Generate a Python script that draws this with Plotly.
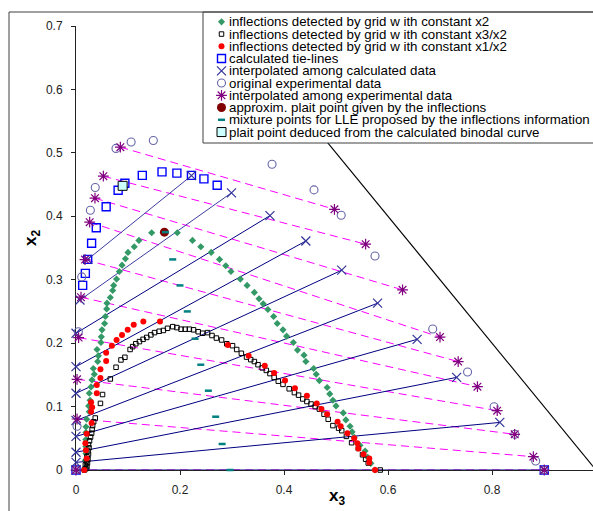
import plotly.graph_objects as go

# ---------------- data ----------------
# inflections detected by grid with constant x2 (green diamonds)
green_x3 = [0.018, 0.018, 0.019, 0.019, 0.019, 0.019, 0.0192, 0.0205, 0.0256, 0.0244, 0.027, 0.0256,
            0.0288, 0.0308, 0.0352, 0.0333, 0.0417, 0.043, 0.0404, 0.048, 0.0487, 0.050, 0.055, 0.0564,
            0.059, 0.0596, 0.066, 0.0705, 0.0724, 0.078, 0.0833, 0.0885, 0.095, 0.100, 0.112, 0.121, 0.1455,
            0.1948, 0.224, 0.240, 0.260, 0.276, 0.288, 0.298, 0.316, 0.329, 0.343, 0.352, 0.360, 0.369,
            0.380, 0.387, 0.398, 0.405, 0.418, 0.426, 0.4385, 0.442, 0.457, 0.462, 0.468, 0.483, 0.488,
            0.494, 0.500, 0.514, 0.519, 0.527, 0.531, 0.535, 0.546, 0.556, 0.561, 0.567, 0.575]
green_x2 = [0.004, 0.015, 0.026, 0.037, 0.048, 0.059, 0.068, 0.080, 0.092, 0.101, 0.110, 0.121,
            0.131, 0.142, 0.151, 0.160, 0.171, 0.180, 0.190, 0.201, 0.210, 0.221, 0.231, 0.242,
            0.254, 0.263, 0.272, 0.283, 0.291, 0.301, 0.313, 0.323, 0.333, 0.343, 0.352, 0.362, 0.374,
            0.374, 0.362, 0.352, 0.343, 0.332, 0.322, 0.313, 0.301, 0.291, 0.280, 0.270, 0.262, 0.253,
            0.242, 0.231, 0.221, 0.211, 0.201, 0.189, 0.181, 0.171, 0.160, 0.151, 0.141, 0.130, 0.120,
            0.110, 0.101, 0.090, 0.079, 0.069, 0.060, 0.0515, 0.039, 0.030, 0.020, 0.0105, 0.000]

# inflections detected by grid with constant x3/x2 (small black open squares)
black_x3 = [0.016, 0.019, 0.021, 0.018, 0.022, 0.020, 0.023, 0.021, 0.024, 0.023, 0.025, 0.024,
            0.026, 0.028, 0.030, 0.031, 0.032, 0.034, 0.037, 0.047, 0.051, 0.066, 0.077, 0.0865,
            0.094, 0.104, 0.109, 0.115, 0.122, 0.129, 0.136, 0.144, 0.151, 0.160, 0.168, 0.176,
            0.186, 0.194, 0.202, 0.210, 0.218, 0.226, 0.235, 0.2436, 0.253, 0.2615, 0.270, 0.280,
            0.290, 0.301, 0.309, 0.318, 0.328, 0.336, 0.343, 0.350, 0.358, 0.366, 0.373, 0.381,
            0.389, 0.398, 0.410, 0.420, 0.428, 0.436, 0.444, 0.452, 0.460, 0.468, 0.477, 0.485,
            0.494, 0.505, 0.511, 0.520, 0.530, 0.543, 0.551, 0.557, 0.562, 0.585]
black_x2 = [0.000, 0.002, 0.005, 0.008, 0.011, 0.014, 0.017, 0.021, 0.025, 0.030, 0.035, 0.040,
            0.046, 0.052, 0.058, 0.064, 0.070, 0.076, 0.082, 0.105, 0.119, 0.1435, 0.162, 0.1735,
            0.1777, 0.190, 0.1945, 0.199, 0.2024, 0.206, 0.209, 0.213, 0.2166, 0.2187, 0.220, 0.2234,
            0.226, 0.2245, 0.222, 0.222, 0.222, 0.221, 0.218, 0.2156, 0.2166, 0.212, 0.208, 0.205,
            0.199, 0.196, 0.190, 0.184, 0.178, 0.174, 0.171, 0.166, 0.161, 0.157, 0.152, 0.146,
            0.140, 0.135, 0.128, 0.122, 0.118, 0.112, 0.108, 0.104, 0.100, 0.096, 0.088, 0.080,
            0.070, 0.066, 0.062, 0.053, 0.043, 0.034, 0.024, 0.017, 0.011, 0.000]

# inflections detected by grid with constant x1/x2 (red dots)
red_x3 = [0.016, 0.0205, 0.019, 0.018, 0.0205, 0.030, 0.029, 0.029, 0.031, 0.040, 0.040, 0.047,
          0.047, 0.058, 0.058, 0.069, 0.078, 0.0885, 0.0994, 0.111, 0.1295, 0.1615,
          0.292, 0.332, 0.363, 0.381, 0.402, 0.421, 0.444, 0.463, 0.472, 0.483, 0.503, 0.509,
          0.522, 0.535, 0.541, 0.543, 0.553, 0.564, 0.564, 0.575]
red_x2 = [0.000, 0.018, 0.031, 0.042, 0.057, 0.074, 0.092, 0.107, 0.099, 0.121, 0.134, 0.145,
          0.159, 0.172, 0.185, 0.196, 0.205, 0.213, 0.221, 0.229, 0.234, 0.234,
          0.197, 0.180, 0.1645, 0.153, 0.141, 0.129, 0.117, 0.105, 0.096, 0.088, 0.076, 0.069,
          0.058, 0.050, 0.042, 0.034, 0.025, 0.018, 0.012, 0.000]

# calculated tie-lines (blue open squares)
calc_x3 = [0.0, 0.0128, 0.018, 0.0225, 0.030, 0.039, 0.058, 0.081, 0.094, 0.1275, 0.1654, 0.194,
           0.222, 0.246, 0.2715, 0.9005]
calc_x2 = [0.0, 0.291, 0.310, 0.332, 0.3575, 0.382, 0.415, 0.441, 0.452, 0.4645, 0.470, 0.468,
           0.4645, 0.459, 0.449, 0.0]

# interpolated among calculated data (tie-line end points, X markers)
tie_left_x3 = [0.0225, 0.0077, 0.0, 0.0, 0.0, 0.0, 0.0, 0.0, 0.0, 0.0]
tie_left_x2 = [0.332, 0.268, 0.2156, 0.163, 0.121, 0.078, 0.053, 0.028, 0.012, 0.0]
tie_right_x3 = [0.222, 0.299, 0.373, 0.442, 0.511, 0.580, 0.656, 0.732, 0.815, 0.9005]
tie_right_x2 = [0.464, 0.437, 0.401, 0.361, 0.315, 0.263, 0.206, 0.146, 0.075, 0.0]

# original experimental data (open circles)
exp_x3 = [0.0, 0.002, 0.0045, 0.011, 0.0276, 0.037, 0.0769, 0.106, 0.1487, 0.377, 0.4577, 0.510,
          0.575, 0.686, 0.753, 0.804, 0.844, 0.884, 0.9005]
exp_x2 = [0.0, 0.069, 0.218, 0.3044, 0.4096, 0.4453, 0.507, 0.517, 0.5195, 0.482, 0.4416, 0.4017,
          0.3375, 0.2224, 0.1546, 0.0998, 0.0563, 0.0142, 0.0]

# interpolated among experimental data (asterisks, dashed tie-lines)
iexp_left_x3 = [0.0853, 0.0526, 0.0365, 0.0263, 0.0173, 0.0096, 0.005, 0.002, 0.002, 0.0]
iexp_left_x2 = [0.509, 0.4632, 0.4285, 0.3907, 0.3317, 0.2724, 0.2087, 0.143, 0.0804, 0.0]
iexp_right_x3 = [0.497, 0.557, 0.628, 0.700, 0.735, 0.772, 0.810, 0.8436, 0.8795, 0.9005]
iexp_right_x2 = [0.411, 0.356, 0.284, 0.2095, 0.1709, 0.1314, 0.0935, 0.0563, 0.021, 0.0]

# approximate plait point given by the inflections
plait_infl_x3 = [0.170]
plait_infl_x2 = [0.375]

# mixture points for LLE proposed by the inflections information
mix_x3 = [0.172, 0.186, 0.200, 0.214, 0.229, 0.240, 0.2545, 0.2686, 0.281, 0.296]
mix_x2 = [0.375, 0.332, 0.291, 0.250, 0.207, 0.166, 0.125, 0.084, 0.041, 0.0]

# plait point deduced from the calculated binodal curve
plait_calc_x3 = [0.0897]
plait_calc_x2 = [0.448]

# triangle side x2 + x3 = 1
side_x3 = [0.0, 1.0]
side_x2 = [1.0, 0.0]

x_ticks = [0, 0.2, 0.4, 0.6, 0.8]
x_tick_text = ["0", "0.2", "0.4", "0.6", "0.8"]
y_ticks = [0, 0.1, 0.2, 0.3, 0.4, 0.5, 0.6, 0.7]
y_tick_text = ["0", "0.1", "0.2", "0.3", "0.4", "0.5", "0.6", "0.7"]

legend_labels = [
    "inflections detected by grid w ith constant x2",
    "inflections detected by grid w ith constant x3/x2",
    "inflections detected by grid w ith constant x1/x2",
    "calculated tie-lines",
    "interpolated among calculated data",
    "original experimental data",
    "interpolated among experimental data",
    "approxim. plait point given by the inflections",
    "mixture points for LLE proposed by the inflections information",
    "plait point deduced from the calculated binodal curve",
]

# ---------------- styles ----------------
W, H = 593, 511
FONT = "Liberation Sans, Arial, sans-serif"

m_green = dict(symbol="diamond", size=5.5, color="#339966", line=dict(width=0))
m_black = dict(symbol="square-open", size=4.5, color="#000000", line=dict(width=1, color="#000000"))
m_red = dict(symbol="circle", size=6, color="#FF0000", line=dict(width=0))
m_calc = dict(symbol="square-open", size=8, color="#0000FF", line=dict(width=1.4, color="#0000FF"))
m_x = dict(symbol="x-thin-open", size=9, color="#333399", line=dict(width=1.2, color="#333399"))
m_exp = dict(symbol="circle-open", size=8, color="#6666A8", line=dict(width=1.1, color="#6666A8"))
m_ast = dict(symbol="asterisk-open", size=9, color="#800080", line=dict(width=1.2, color="#800080"))
m_pinf = dict(symbol="circle", size=9, color="#800000", line=dict(width=0))
m_mix = dict(symbol="line-ew-open", size=5, color="#008080", line=dict(width=2.5, color="#008080"))
m_pcalc = dict(symbol="square", size=9, color="#CCFFFF", line=dict(width=1, color="#000000"))
legend_markers = [m_green, m_black, m_red, m_calc, m_x, m_exp, m_ast, m_pinf, m_mix, m_pcalc]


def segments(x0s, y0s, x1s, y1s):
    xs, ys = [], []
    for a, b, c, d in zip(x0s, y0s, x1s, y1s):
        xs += [a, c, None]
        ys += [b, d, None]
    return xs, ys


fig = go.Figure()

# triangle side
fig.add_trace(go.Scatter(x=side_x3, y=side_x2, mode="lines",
                         line=dict(color="#000000", width=1.2), hoverinfo="skip"))
# experimental (interpolated) tie-lines, dashed magenta
ex, ey = segments(iexp_left_x3, iexp_left_x2, iexp_right_x3, iexp_right_x2)
fig.add_trace(go.Scatter(x=ex, y=ey, mode="lines",
                         line=dict(color="#FF00FF", width=1, dash="8px,5px"), hoverinfo="skip"))
# calculated tie-lines, navy
tx, ty = segments(tie_left_x3[:2], tie_left_x2[:2], tie_right_x3[:2], tie_right_x2[:2])
fig.add_trace(go.Scatter(x=tx, y=ty, mode="lines", line=dict(color="#3C3CA0", width=1), hoverinfo="skip"))
tx, ty = segments(tie_left_x3[2:], tie_left_x2[2:], tie_right_x3[2:], tie_right_x2[2:])
fig.add_trace(go.Scatter(x=tx, y=ty, mode="lines", line=dict(color="#000080", width=1), hoverinfo="skip"))

series = [
    (green_x3, green_x2, m_green),
    (black_x3, black_x2, m_black),
    (red_x3, red_x2, m_red),
    (calc_x3, calc_x2, m_calc),
    (tie_left_x3 + tie_right_x3, tie_left_x2 + tie_right_x2, m_x),
    (exp_x3, exp_x2, m_exp),
    (iexp_left_x3 + iexp_right_x3, iexp_left_x2 + iexp_right_x2, m_ast),
    (plait_infl_x3, plait_infl_x2, m_pinf),
    (mix_x3, mix_x2, m_mix),
    (plait_calc_x3, plait_calc_x2, m_pcalc),
]
for (sx, sy, mk), name in zip(series, legend_labels):
    fig.add_trace(go.Scatter(x=sx, y=sy, mode="markers", marker=mk, name=name, cliponaxis=False))

# ---------------- legend box (own small subplot in pixel units) ----------------
LEG_L, LEG_T, LEG_B = 203, 12, 143
fig.add_trace(go.Scatter(x=[LEG_L, 800, 800, LEG_L, LEG_L], y=[LEG_T, LEG_T, LEG_B, LEG_B, LEG_T],
                         mode="lines", fill="toself", fillcolor="#FFFFFF",
                         line=dict(width=0, color="#FFFFFF"), xaxis="x2", yaxis="y2", hoverinfo="skip"))
row_y = [21.8 + 12.25 * i for i in range(len(legend_labels))]
for mk, yy in zip(legend_markers, row_y):
    fig.add_trace(go.Scatter(x=[221.5], y=[yy], mode="markers", marker=mk, xaxis="x2", yaxis="y2",
                             hoverinfo="skip", cliponaxis=False))

annotations = []
for lab, yy in zip(legend_labels, row_y):
    annotations.append(dict(x=228, y=yy, xref="x2", yref="y2", text=lab, showarrow=False,
                            xanchor="left", yanchor="middle", borderpad=0,
                            font=dict(family=FONT, size=13.3, color="#000000")))
annotations.append(dict(x=337 / W, y=(H - 497) / H, xref="paper", yref="paper",
                        text="<b>x<sub>3</sub></b>", showarrow=False, xanchor="center", yanchor="middle",
                        font=dict(family=FONT, size=17, color="#000000")))
annotations.append(dict(x=32 / W, y=(H - 238) / H, xref="paper", yref="paper", textangle=-90,
                        text="<b>x<sub>2</sub></b>", showarrow=False, xanchor="center", yanchor="middle",
                        font=dict(family=FONT, size=17, color="#000000")))

shapes = [
    # chart area border
    dict(type="rect", xref="paper", yref="paper", x0=9 / W, x1=1.05, y0=-0.05, y1=(H - 12) / H,
         line=dict(color="#404040", width=1), fillcolor="rgba(0,0,0,0)", layer="above"),
    # legend border
    dict(type="rect", xref="paper", yref="paper", x0=LEG_L / W, x1=1.05, y0=(H - LEG_B) / H,
         y1=(H - LEG_T) / H, line=dict(color="#404040", width=1), fillcolor="rgba(0,0,0,0)", layer="above"),
]

axis_common = dict(showgrid=False, zeroline=False, showline=True, linecolor="#222222", linewidth=1,
                   ticks="outside", ticklen=4, tickcolor="#222222", tickwidth=1, automargin=False,
                   tickfont=dict(family=FONT, size=12, color="#222222"), layer="below traces")

fig.update_layout(
    width=W, height=H, margin=dict(l=0, r=0, t=0, b=0, pad=0, autoexpand=False),
    paper_bgcolor="#FFFFFF", plot_bgcolor="#FFFFFF", showlegend=False,
    xaxis=dict(domain=[76 / W, 1], range=[0, (W - 76) / 520], tickvals=x_ticks, ticktext=x_tick_text,
               ticklabelstandoff=5, anchor="y", **axis_common),
    yaxis=dict(domain=[41 / H, 485 / H], range=[0, 0.7], tickvals=y_ticks, ticktext=y_tick_text,
               ticklabelstandoff=6, anchor="x", **axis_common),
    xaxis2=dict(domain=[LEG_L / W, 1], range=[LEG_L, W], visible=False, anchor="y2", fixedrange=True,
                automargin=False),
    yaxis2=dict(domain=[(H - LEG_B) / H, (H - LEG_T) / H], range=[LEG_B, LEG_T], visible=False,
                anchor="x2", fixedrange=True, automargin=False),
    annotations=annotations, shapes=shapes,
)

fig.write_html("out.html", config={"displayModeBar": False},
               post_script="document.body.style.margin='0px';document.body.style.overflow='hidden';")
